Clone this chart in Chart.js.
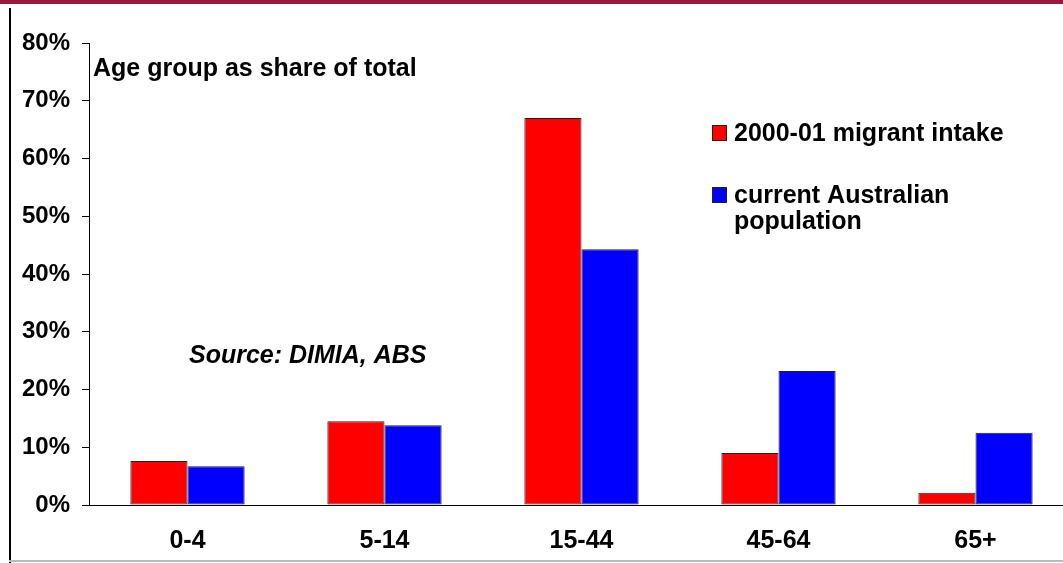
<!DOCTYPE html>
<html>
<head>
<meta charset="utf-8">
<script src="https://cdn.jsdelivr.net/npm/chart.js@4.4.1/dist/chart.umd.min.js"></script>
<style>
  html, body { margin: 0; padding: 0; background: #fff; overflow: hidden; }
  #wrap { position: relative; width: 1063px; height: 563px; overflow: hidden; }
</style>
</head>
<body>
<div id="wrap"><canvas id="myChart" width="1074" height="563"></canvas></div>
<script>
const categorias = ['0-4', '5-14', '15-44', '45-64', '65+']
const migrantes = [7.6, 14.5, 67.0, 9.0, 2.1]
const poblacion = [6.7, 13.8, 44.3, 23.2, 12.5]
const ticksY = [0, 10, 20, 30, 40, 50, 60, 70, 80]
const serie1 = '2000-01 migrant intake'
const serie2 = ['current Australian', 'population']

const FUENTE = '"Liberation Sans", Arial, sans-serif'

// marco, titulo, fuente y leyenda a mano
const extras = {
    id: 'extras',
    beforeDraw(chart) {
        const c = chart.ctx
        c.save()
        c.fillStyle = '#fff'
        c.fillRect(0, 0, chart.width, chart.height)
        c.fillStyle = '#9a1840'
        c.fillRect(0, 0, chart.width, 4)
        c.fillStyle = '#000'
        c.fillRect(9, 8, 2, chart.height - 8)
        c.fillStyle = '#bbb'
        c.fillRect(9, 560, chart.width - 9, 2)
        c.restore()
    },
    afterDraw(chart) {
        const c = chart.ctx
        c.save()
        c.fillStyle = '#000'
        c.textBaseline = 'middle'
        c.font = 'bold 25px ' + FUENTE
        c.fillText('Age group as share of total', 93, 69)
        c.font = 'italic bold 25px ' + FUENTE
        c.fillText('Source: DIMIA, ABS', 189, 356)

        const ds = chart.data.datasets
        c.font = 'bold 25px ' + FUENTE
        c.lineWidth = 1
        c.strokeStyle = '#222'
        c.fillStyle = ds[0].backgroundColor
        c.fillRect(712, 125, 14, 15)
        c.strokeRect(712.5, 125.5, 14, 15)
        c.fillStyle = '#000'
        c.fillText(serie1, 734, 134)
        c.fillStyle = ds[1].backgroundColor
        c.fillRect(712, 187, 14, 15)
        c.strokeRect(712.5, 187.5, 14, 15)
        c.fillStyle = '#000'
        c.fillText(serie2[0], 734, 196)
        c.fillText(serie2[1], 734, 222)
        c.restore()
    }
}

var ctx = document.getElementById('myChart')
var myChart = new Chart(ctx, {
    type: 'bar',
    data: {
        labels: categorias,
        datasets: [{
            label: serie1,
            data: migrantes,
            backgroundColor: '#ff0000',
            borderColor: '#222',
            borderWidth: 1,
            borderSkipped: false
        }, {
            label: serie2.join(' '),
            data: poblacion,
            backgroundColor: '#0000ff',
            borderColor: '#222',
            borderWidth: 1,
            borderSkipped: false
        }]
    },
    options: {
        responsive: false,
        animation: false,
        layout: { padding: { top: 43, right: 0, left: 0, bottom: 0 } },
        datasets: { bar: { categoryPercentage: 0.58, barPercentage: 1 } },
        plugins: { legend: { display: false }, tooltip: { enabled: false } },
        scales: {
            x: {
                grid: { display: false, drawTicks: false },
                border: { display: true, color: '#000', width: 1 },
                ticks: { color: '#000', padding: 21, font: { family: FUENTE, size: 25, weight: 'bold' } },
                afterFit: (s) => { s.height = 58 }
            },
            y: {
                min: 0,
                max: 80,
                afterBuildTicks: (s) => { s.ticks = ticksY.map(v => ({ value: v })) },
                grid: { drawOnChartArea: false, drawTicks: true, tickLength: 7, color: '#000' },
                border: { display: true, color: '#000', width: 1 },
                ticks: {
                    color: '#000',
                    padding: 12,
                    font: { family: FUENTE, size: 24, weight: 'bold' },
                    callback: (v) => v + '%'
                },
                afterFit: (s) => { s.width = 89 }
            }
        }
    },
    plugins: [extras]
})
</script>
</body>
</html>
